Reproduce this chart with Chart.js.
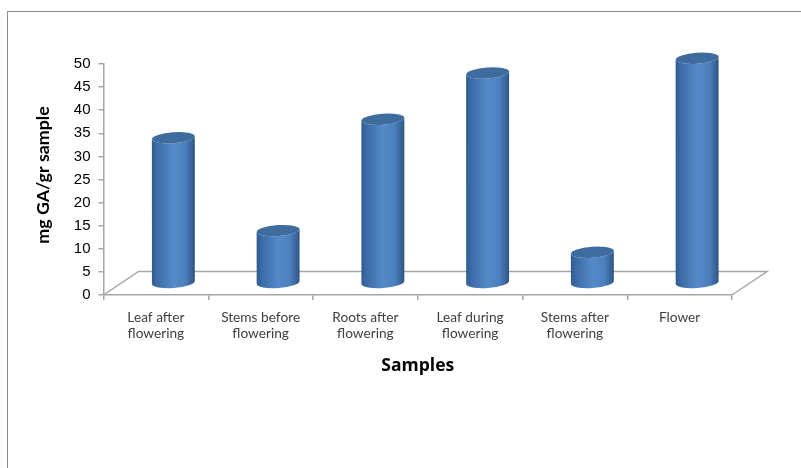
<!DOCTYPE html>
<html>
<head>
<meta charset="utf-8">
<style>
  html, body { margin: 0; padding: 0; background: #fff; }
  #wrap { position: relative; width: 801px; height: 468px; overflow: hidden; }
  #frame { position: absolute; left: 7px; top: 11px; width: 800px; height: 470px; border: 1.5px solid #8c8c8c; box-sizing: border-box; }
  canvas { position: absolute; left: 0; top: 0; filter: blur(0.35px); }
</style>
<script src="https://cdn.jsdelivr.net/npm/chart.js@4/dist/chart.umd.min.js"></script>
</head>
<body>
<div id="wrap">
  <div id="frame"></div>
  <canvas id="chart" width="801" height="468"></canvas>
</div>
<script>
const categories = [
  ['Leaf after', 'flowering'],
  ['Stems before', 'flowering'],
  ['Roots after', 'flowering'],
  ['Leaf during', 'flowering'],
  ['Stems after', 'flowering'],
  'Flower'
];
const gaValues = [31.5, 11.4, 35.5, 45.5, 6.7, 48.7];
const yTitle = 'mg GA/gr sample';

const axisGrey = '#a6a6a6';

// floor depth of the fake 3D box, in pixels
const depthX = 35;
const depthY = -23.5;

// Draw the floor behind the bars
const floorPlugin = {
  id: 'floor',
  beforeDatasetsDraw(chart) {
    const { ctx, scales: { x, y } } = chart;
    const y0 = y.getPixelForValue(0);
    ctx.save();
    ctx.strokeStyle = axisGrey;
    ctx.lineWidth = 1.5;
    ctx.beginPath();
    ctx.moveTo(x.left, y0);
    ctx.lineTo(x.left + depthX, y0 + depthY);
    ctx.lineTo(x.right + depthX, y0 + depthY);
    ctx.lineTo(x.right, y0);
    ctx.stroke();
    ctx.restore();
  }
};

// Draw each bar as a cylinder standing in the middle of the floor
const cylinderPlugin = {
  id: 'cylinders',
  afterDatasetsDraw(chart) {
    const { ctx } = chart;
    chart.getDatasetMeta(0).data.forEach(bar => {
      const cx = bar.x + depthX / 2;
      const halfW = bar.width / 2;
      const top = bar.y + depthY / 2;
      const base = bar.base + depthY / 2;
      const ry = 5.5;
      const tilt = -0.07;

      const side = ctx.createLinearGradient(cx - halfW, 0, cx + halfW, 0);
      side.addColorStop(0, '#2f5b8f');
      side.addColorStop(0.12, '#3c6ba6');
      side.addColorStop(0.5, '#558aca');
      side.addColorStop(0.78, '#4c7fbd');
      side.addColorStop(0.93, '#386396');
      side.addColorStop(1, '#2d5485');

      ctx.save();
      ctx.fillStyle = side;
      ctx.beginPath();
      ctx.ellipse(cx, base, halfW, ry, tilt, 0, Math.PI);
      ctx.lineTo(cx - halfW, top);
      ctx.ellipse(cx, top, halfW, ry, tilt, Math.PI, 0, true);
      ctx.closePath();
      ctx.fill();

      ctx.fillStyle = '#3f6c9f';
      ctx.beginPath();
      ctx.ellipse(cx, top, halfW, ry, tilt, 0, Math.PI * 2);
      ctx.fill();
      ctx.restore();
    });
  }
};

// The y title sits a little above the axis middle, which the scale title can't do
const yTitlePlugin = {
  id: 'yTitle',
  afterDraw(chart) {
    const { ctx } = chart;
    ctx.save();
    ctx.translate(43, 175);
    ctx.rotate(-Math.PI / 2);
    ctx.font = 'bold 17.8px Lato';
    ctx.fillStyle = '#000';
    ctx.textAlign = 'center';
    ctx.textBaseline = 'middle';
    ctx.fillText(yTitle, 0, 0);
    ctx.restore();
  }
};

new Chart(document.getElementById('chart'), {
  type: 'bar',
  data: {
    labels: categories,
    datasets: [{
      data: gaValues,
      backgroundColor: 'transparent',
      borderWidth: 0,
      barThickness: 43
    }]
  },
  options: {
    responsive: false,
    animation: false,
    layout: { padding: { left: 33, right: 69, top: 64, bottom: 91 } },
    plugins: {
      legend: { display: false },
      tooltip: { enabled: false }
    },
    scales: {
      x: {
        grid: {
          display: true,
          drawOnChartArea: false,
          color: axisGrey,
          tickLength: 5,
          lineWidth: 1.5
        },
        border: { color: axisGrey, width: 1.5 },
        ticks: {
          color: '#404040',
          font: { family: 'Lato', size: 13.7, lineHeight: 1.22 },
          maxRotation: 0,
          autoSkip: false,
          padding: 9
        },
        title: {
          display: true,
          text: 'Samples',
          color: '#000',
          font: { family: 'Open Sans', size: 17.5, weight: 'bold' },
          padding: { top: 8, bottom: 0 }
        },
        afterFit(scale) { scale.height = 82; }
      },
      y: {
        min: 0,
        max: 50,
        grid: {
          display: true,
          drawOnChartArea: false,
          color: axisGrey,
          tickLength: 5,
          lineWidth: 1.5
        },
        border: { color: axisGrey, width: 1.5 },
        ticks: {
          stepSize: 5,
          color: '#000',
          font: { family: 'Liberation Sans', size: 15 },
          padding: 8
        },
        afterFit(scale) { scale.width = 70.5; }
      }
    }
  },
  plugins: [floorPlugin, cylinderPlugin, yTitlePlugin]
});
</script>
</body>
</html>
